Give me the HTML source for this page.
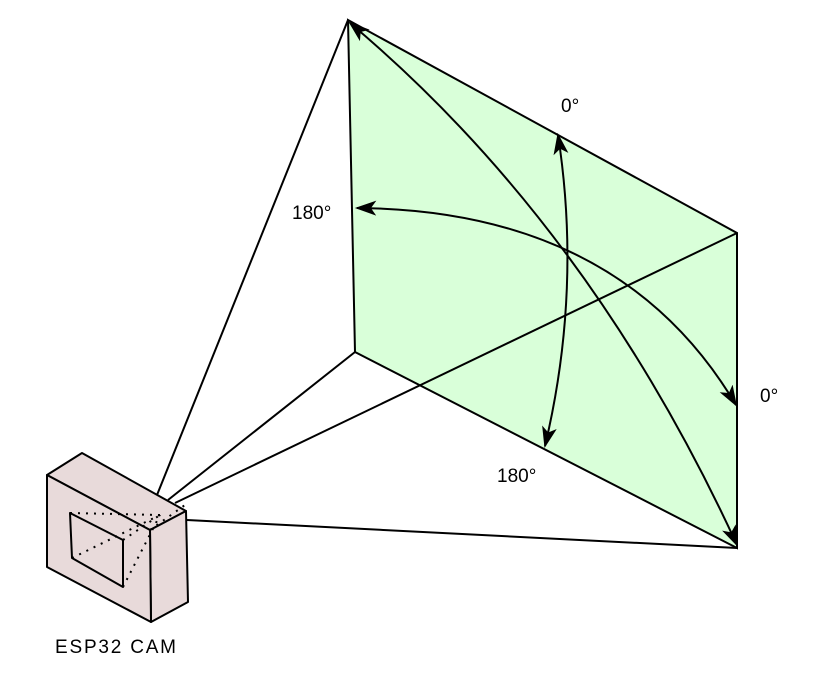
<!DOCTYPE html>
<html><head><style>body{margin:0;background:#fff}svg{display:block}text{font-family:"Liberation Sans",sans-serif;font-size:19px;fill:#000}</style></head>
<body>
<svg width="817" height="682" viewBox="0 0 817 682">
<defs>
<marker id="ah" viewBox="0 0 20 14" refX="18" refY="7" markerWidth="22" markerHeight="15" markerUnits="userSpaceOnUse" orient="auto-start-reverse">
<path d="M0,0 L20,7 L0,14 L5,7 Z" fill="#000"/>
</marker>
</defs>
<polygon points="348,20 737,233 737,548 355,352" fill="#d9ffd9" stroke="#000" stroke-width="2"/>
<g stroke="#000" stroke-width="2">
<line x1="348" y1="20" x2="157" y2="495"/>
<line x1="355" y1="352" x2="168" y2="500"/>
<line x1="737" y1="233" x2="175" y2="503"/>
<line x1="737" y1="548" x2="187" y2="520"/>
</g>
<g stroke="#000" stroke-width="2" fill="#e8dada" stroke-linejoin="round">
<polygon points="47,475 82,453 186,511 150,530"/>
<polygon points="150,530 186,511 188,602 151,622"/>
<polygon points="47,475 150,530 151,622 47,567"/>
<polygon points="70,513 123,540 123,587 72,558" fill="none"/>
<g stroke-dasharray="2,6" stroke-width="2">
<line x1="70" y1="513" x2="160" y2="515"/>
<line x1="123" y1="540" x2="160" y2="515"/>
<line x1="123" y1="587" x2="160" y2="515"/>
<line x1="72" y1="558" x2="160" y2="515"/>
<line x1="150" y1="530" x2="185" y2="505"/>
</g>
</g>
<g fill="none" stroke="#000" stroke-width="2">
<path d="M737,545 Q590,225 350,23" marker-start="url(#ah)" marker-end="url(#ah)"/>
<path d="M545,446 Q582,290 558,135" marker-start="url(#ah)" marker-end="url(#ah)"/>
<path d="M736,405 Q620,210 357,208" marker-start="url(#ah)" marker-end="url(#ah)"/>
</g>
<text x="561" y="112">0°</text>
<text x="292" y="219">180°</text>
<text x="760" y="402">0°</text>
<text x="497" y="482">180°</text>
<text x="55" y="653" textLength="121">ESP32 CAM</text>
</svg>
</body></html>
